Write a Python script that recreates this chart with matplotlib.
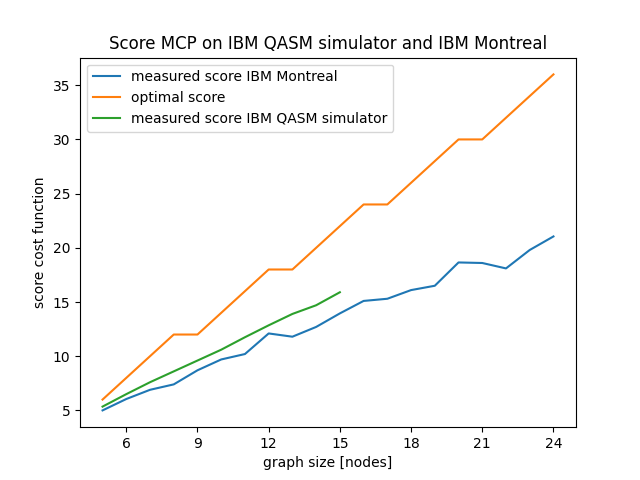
import matplotlib
matplotlib.use('Agg')
from matplotlib import pyplot as plt

# graph sizes
nodes = list(range(5, 25))
nodes_sim = list(range(5, 16))

score_montreal = [5.0, 6.05, 6.9, 7.4, 8.7, 9.7, 10.2, 12.1, 11.8, 12.7,
                  13.95, 15.1, 15.3, 16.1, 16.5, 18.65, 18.6, 18.1, 19.8, 21.05]
score_optimal = [6, 8, 10, 12, 12, 14, 16, 18, 18, 20,
                 22, 24, 24, 26, 28, 30, 30, 32, 34, 36]
score_qasm = [5.35, 6.5, 7.6, 8.6, 9.6, 10.6, 11.75, 12.85, 13.9, 14.7, 15.9]

fig, ax = plt.subplots(figsize=(6.4, 4.8), dpi=100)
ax.plot(nodes, score_montreal, label='measured score IBM Montreal')
ax.plot(nodes, score_optimal, label='optimal score')
ax.plot(nodes_sim, score_qasm, label='measured score IBM QASM simulator')
ax.set_xticks([6, 9, 12, 15, 18, 21, 24])
ax.set_xlabel('graph size [nodes]')
ax.set_ylabel('score cost function')
ax.set_title('Score MCP on IBM QASM simulator and IBM Montreal')
ax.legend(loc='upper left')
fig.savefig('out.png')
